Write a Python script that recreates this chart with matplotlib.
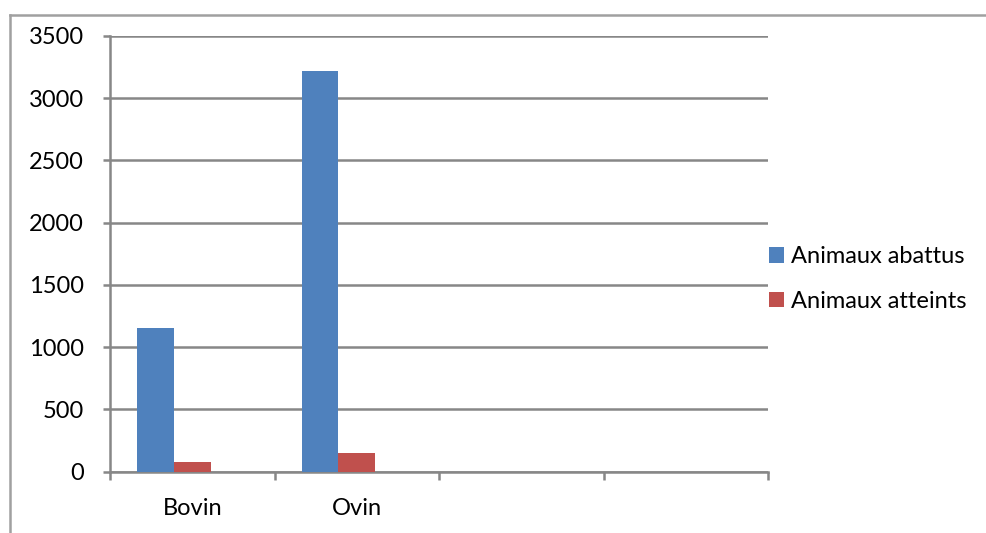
import matplotlib
matplotlib.use("Agg")
import matplotlib.pyplot as plt
from matplotlib.lines import Line2D
import numpy as np

categories = ["Bovin", "Ovin", "", ""]
abattus = [1150, 3220, np.nan, np.nan]
atteints = [80, 150, np.nan, np.nan]
series_labels = ["Animaux abattus", "Animaux atteints"]
y_ticks = [0, 500, 1000, 1500, 2000, 2500, 3000, 3500]

BLUE = "#4F81BD"
RED = "#C0504D"
GRID = "#878787"
FS = 17

plt.rcParams["font.family"] = ["Lato", "DejaVu Sans"]

W, H = 987, 533
fig = plt.figure(figsize=(W / 100, H / 100), dpi=100)
ax = fig.add_axes([110 / W, (H - 471.5) / H, (768 - 110) / W, (471.5 - 36) / H])

# three slots per category with a 150% gap, Excel style
n_slots = 3
width = 1 / (n_slots + 1.5)
x = np.arange(len(categories))
ax.bar(x - width, abattus, width, color=BLUE, label=series_labels[0], zorder=3)
ax.bar(x, atteints, width, color=RED, label=series_labels[1], zorder=3)

ax.set_xlim(-0.5, len(categories) - 0.5)
ax.set_ylim(0, 3500)
ax.set_yticks(y_ticks)
ax.set_yticklabels([str(v) for v in y_ticks], fontsize=FS)
ax.yaxis.grid(True, color=GRID, linewidth=1.8, zorder=0)
ax.set_axisbelow(True)

ax.set_xticks(x)
ax.set_xticklabels(categories, fontsize=FS)
ax.set_xticks(np.arange(len(categories) + 1) - 0.5, minor=True)
ax.tick_params(axis="x", which="major", length=0, pad=19)
ax.tick_params(axis="x", which="minor", length=6, width=1.8, color=GRID, direction="out")
ax.tick_params(axis="y", length=5, width=1.8, color=GRID, direction="out", pad=14)

for side in ("top", "right"):
    ax.spines[side].set_visible(False)
for side in ("left", "bottom"):
    ax.spines[side].set_color(GRID)
    ax.spines[side].set_linewidth(1.8)

ax.legend(loc="center left", bbox_to_anchor=(769 / W, (H - 279) / H),
          bbox_transform=fig.transFigure, frameon=False, fontsize=FS,
          handlelength=0.65, handleheight=0.65, handletextpad=0.3,
          labelspacing=1.0, borderaxespad=0, borderpad=0)

# chart-area border
fig.add_artist(Line2D([10.5 / W, 1.0], [1 - 14.5 / H, 1 - 14.5 / H],
                      transform=fig.transFigure, color="#A0A0A0", linewidth=1.8))
fig.add_artist(Line2D([10.5 / W, 10.5 / W], [0, 1 - 14.5 / H],
                      transform=fig.transFigure, color="#A0A0A0", linewidth=1.8))

fig.savefig("out.png", dpi=100, facecolor="white")
